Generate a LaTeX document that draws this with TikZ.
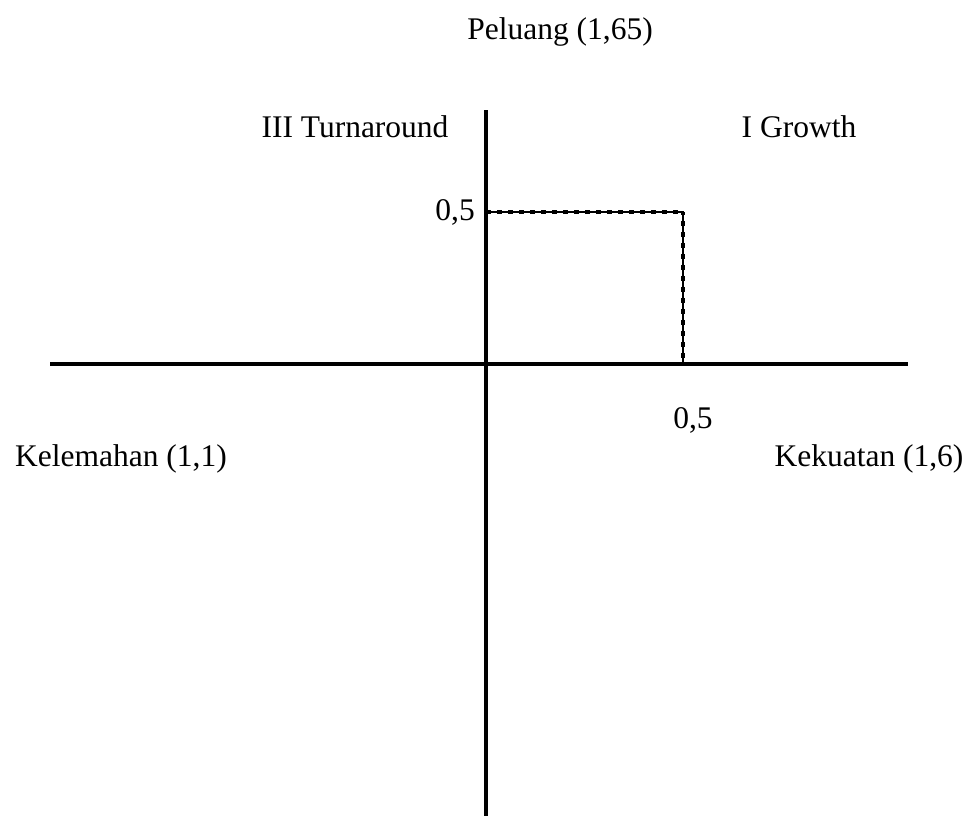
\documentclass[tikz,border=0pt]{standalone}
\usepackage{fontspec}
\setmainfont{Liberation Serif}
\usepackage{tikz}
\usetikzlibrary{positioning, calc}

\begin{document}
\begin{tikzpicture}[
  x=1pt, y=-1pt,
  font=\fontsize{31.5}{36}\selectfont,
  axis/.style={line width=4.5pt},
  dots/.style={line width=4.5pt, dash pattern=on 4.5pt off 6.5pt},
  thin line/.style={line width=1.6pt},
  lbl/.style={inner sep=0pt, anchor=base}
]
  \useasboundingbox (0,0) rectangle (968,820);

  % axes
  \coordinate (xl) at (50,364);
  \coordinate (xr) at (908,364);
  \coordinate (yt) at (486,110);
  \coordinate (yb) at (486,816);
  \coordinate (o)  at (486,364);
  \draw[axis] (xl) -- (xr);
  \draw[axis, line width=4pt] (yt) -- (yb);

  % dashed box at 0,5 / 0,5
  \coordinate (py) at (486,212);
  \coordinate (pc) at (683,212);
  \coordinate (px) at (683,362);
  \draw[thin line] (py) -- (pc) -- (px);
  \draw[dots] (py) -- (pc);
  \draw[dots, dash phase=2pt] (pc) -- (px);

  \node[lbl] (peluang) at (560,39)  {Peluang (1,65)};
  \node[lbl] (turn)    at (355,137) {III Turnaround};
  \node[lbl] (growth)  at (799,137) {I Growth};
  \node[lbl, anchor=base east] (ytick) at (475,220) {0,5};
  \node[lbl] (xtick)   at (693,428) {0,5};
  \node[lbl] (lemah)   at (121,466) {Kelemahan (1,1)};
  \node[lbl] (kuat)    at (869,466) {Kekuatan (1,6)};
\end{tikzpicture}
\end{document}
